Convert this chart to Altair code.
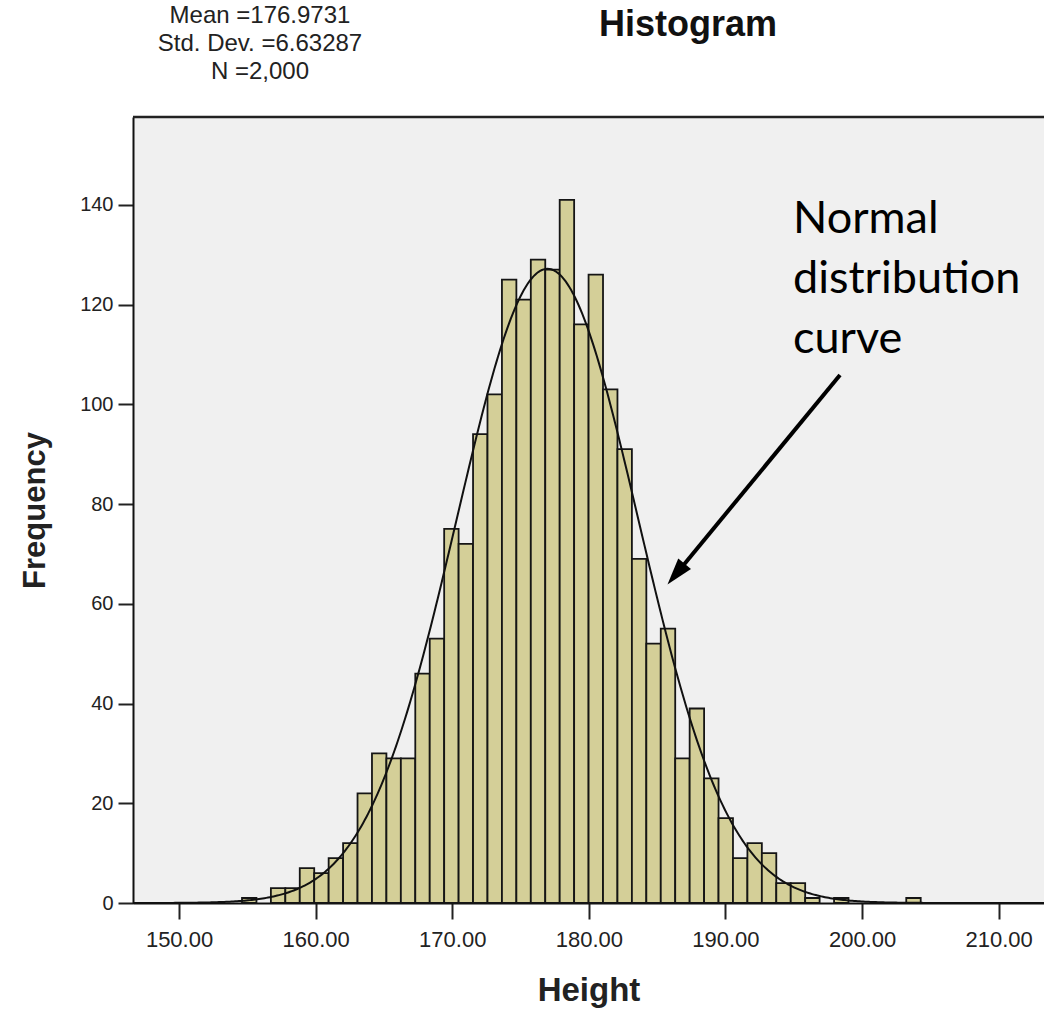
import altair as alt
import numpy as np
import pandas as pd

# Frequencies of the 47 equal-width height bins
counts = [1, 0, 3, 3, 7, 6, 9, 12, 22, 30, 29, 29, 46, 53, 75, 72, 94, 102, 125, 121,
          129, 127, 141, 116, 126, 103, 91, 69, 52, 55, 29, 39, 25, 17, 9, 12, 10, 4, 4, 1,
          0, 1, 0, 0, 0, 0, 1]
bin_start = 154.61
bin_width = 1.0571

# Summary statistics
mean = 176.9731
std_dev = 6.63287
n_total = 2000
stats_lines = ["Mean =176.9731", "Std. Dev. =6.63287", "N =2,000"]

x_ticks = [150, 160, 170, 180, 190, 200, 210]
y_ticks = [0, 20, 40, 60, 80, 100, 120, 140]
x_domain = [146.63, 213.32]
y_domain = [0, 157.6]

W, H = 911, 786
FONT = "Liberation Sans"

lo = [bin_start + i * bin_width for i in range(len(counts))]
bins = pd.DataFrame({
    "lo": lo,
    "hi": [v + bin_width for v in lo],
    "count": counts,
})
bins = bins[bins["count"] > 0]

# Fitted normal curve scaled to counts per bin
xs = np.linspace(x_domain[0], x_domain[1], 500)
pdf = np.exp(-0.5 * ((xs - mean) / std_dev) ** 2) / (std_dev * np.sqrt(2 * np.pi))
curve = pd.DataFrame({"x": xs, "y": n_total * bin_width * pdf})

x_scale = alt.Scale(domain=x_domain, nice=False, zero=False)
y_scale = alt.Scale(domain=y_domain, nice=False, zero=True)

bars = alt.Chart(bins).mark_rect(
    fill="#D4CF98", stroke="#151515", strokeWidth=1.8
).encode(
    x=alt.X("lo:Q", scale=x_scale, axis=alt.Axis(
        values=x_ticks, format=".2f", grid=False,
        labelFont=FONT, labelFontSize=22, labelColor="#222", labelPadding=10,
        tickSize=16, tickWidth=2, tickColor="#222",
        domainColor="#111", domainWidth=2,
        title="Height", titleFont=FONT, titleFontSize=33, titleFontWeight="bold",
        titleColor="#222", titlePadding=24,
    )),
    x2="hi:Q",
    y=alt.Y("count:Q", scale=y_scale, axis=alt.Axis(
        values=y_ticks, grid=False,
        labelFont=FONT, labelFontSize=20, labelColor="#222", labelPadding=5,
        tickSize=15, tickWidth=2, tickColor="#222",
        domainColor="#111", domainWidth=2,
        title="Frequency", titleFont=FONT, titleFontSize=31, titleFontWeight="bold",
        titleColor="#222", titlePadding=28,
    )),
    y2=alt.datum(0),
)

line = alt.Chart(curve).mark_line(color="#111", strokeWidth=2).encode(
    x=alt.X("x:Q", scale=x_scale),
    y=alt.Y("y:Q", scale=y_scale),
)

one = pd.DataFrame({"a": [0]})

top_border = alt.Chart(one).mark_rule(color="#222", strokeWidth=2.5).encode(
    x=alt.value(0), x2=alt.value(W), y=alt.value(0)
)

title = alt.Chart(one).mark_text(
    text="Histogram", font=FONT, fontSize=36, fontWeight="bold", color="#111",
    align="center", baseline="middle",
).encode(x=alt.value(555), y=alt.value(-92))

stats = [
    alt.Chart(one).mark_text(
        text=t, font=FONT, fontSize=24, color="#222", align="center", baseline="middle",
    ).encode(x=alt.value(127), y=alt.value(-101 + 28 * k))
    for k, t in enumerate(stats_lines)
]

note = alt.Chart(one).mark_text(
    text="Normal\ndistribution\ncurve", lineBreak="\n", lineHeight=60,
    font="Lato", fontSize=45, color="#000", align="left", baseline="top",
).encode(x=alt.value(660), y=alt.value(80))

arrow_shaft = alt.Chart(one).mark_rule(color="#000", strokeWidth=4).encode(
    x=alt.value(707), y=alt.value(258), x2=alt.value(544), y2=alt.value(456)
)
arrow_head = alt.Chart(one).mark_point(
    shape="M0,-1L0.55,0.8L-0.55,0.8Z", size=900, filled=True, opacity=1,
    color="#000", angle=219.5,
).encode(x=alt.value(544), y=alt.value(456))

chart = alt.layer(
    bars, line, top_border, title, *stats, note, arrow_shaft, arrow_head
).properties(
    width=W, height=H,
    autosize=alt.AutoSizeParams(type="none"),
    padding={"left": 133, "top": 117, "right": 0, "bottom": 108},
    background="white",
).configure_view(fill="#F0F0F0", stroke="transparent")

chart.save("out.html", embed_options={"renderer": "svg", "actions": False})
